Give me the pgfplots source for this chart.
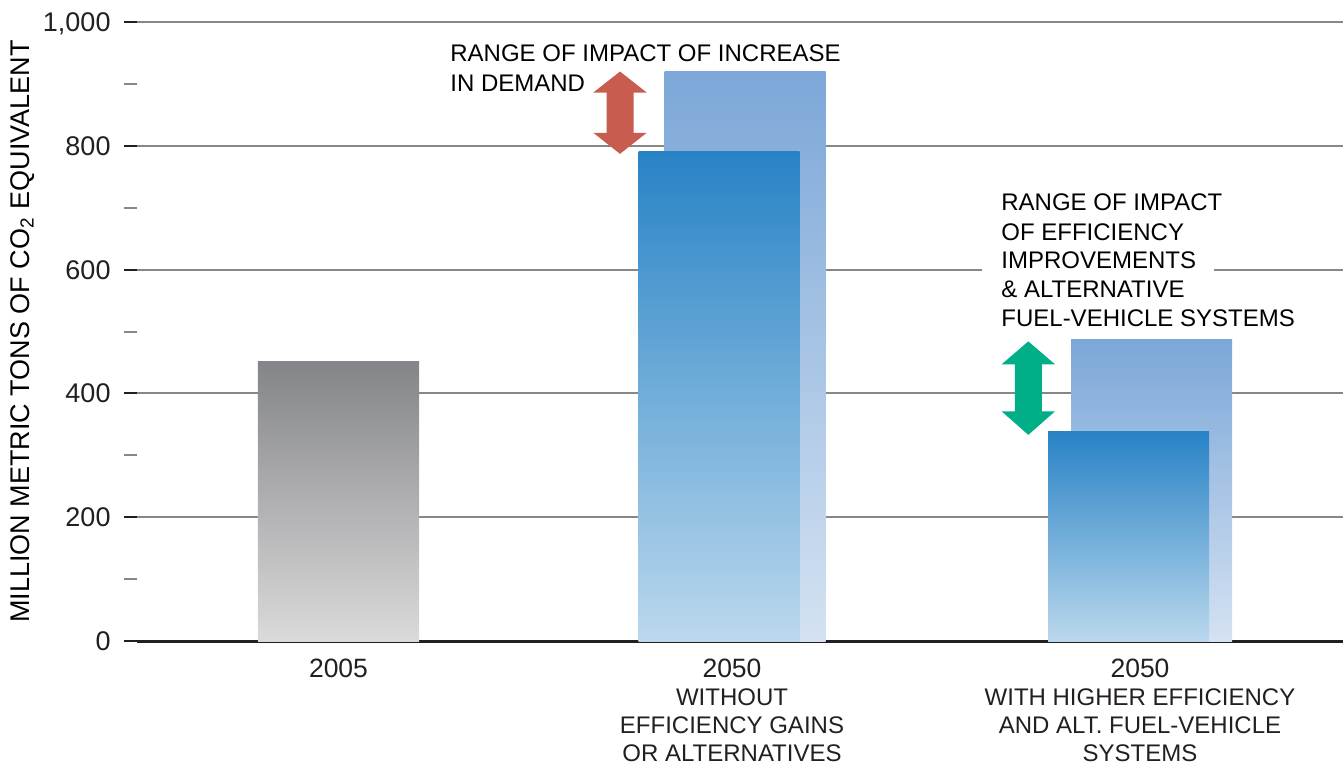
\documentclass[border=0pt]{standalone}
\usepackage{pgfplots}
\pgfplotsset{compat=1.18}
\usepackage{fontspec}
\setmainfont{Liberation Sans}
\definecolor{txt}{RGB}{35,31,32}
\definecolor{gridc}{RGB}{135,135,135}
\definecolor{graytop}{RGB}{132,133,137}
\definecolor{graybot}{RGB}{218,218,218}
\definecolor{backtop}{RGB}{124,167,216}
\definecolor{backbot}{RGB}{212,226,242}
\definecolor{fronttop}{RGB}{40,131,198}
\definecolor{frontbot}{RGB}{187,216,237}
\definecolor{arrred}{RGB}{200,92,78}
\definecolor{arrgreen}{RGB}{0,174,135}

\begin{document}
\begin{tikzpicture}[font=\color{txt}]
\begin{axis}[
  scale only axis, width=603pt, height=309.5pt,
  xmin=137, xmax=1343, ymin=0, ymax=1000,
  clip=false,
  axis x line=bottom, axis y line=left,
  x axis line style={-, line width=1.5pt, color=txt},
  y axis line style={draw=none},
  xtick={338.5,732,1140},
  xticklabels={{\fontsize{13.25}{14}\selectfont 2005},
    {\fontsize{13.25}{14}\selectfont 2050\\WITHOUT\\EFFICIENCY GAINS\\OR ALTERNATIVES},
    {\fontsize{13.25}{14}\selectfont 2050\\WITH HIGHER EFFICIENCY\\AND ALT. FUEL-VEHICLE\\SYSTEMS}},
  xticklabel style={align=center, font=\fontsize{12}{14}\selectfont, color=txt, yshift=0.8pt},
  xtick style={draw=none},
  ytick={0,200,...,1000},
  minor ytick={100,300,...,900},
  tick align=outside,
  major tick length=6.5pt, minor tick length=6.5pt,
  major tick style={line width=1pt, color=txt},
  minor tick style={line width=1pt, color=gridc},
  ymajorgrids, grid style={line width=1pt, color=gridc},
  yticklabel style={font=\fontsize{13.5}{15}\selectfont, text depth=0pt, color=txt, xshift=-3.2pt},
  /pgf/number format/1000 sep={,},
  /pgf/number format/assume math mode=true,
]
% back bars
\addplot[ybar, bar width=161, bar shift=0pt, draw=none, top color=backtop, bottom color=backbot]
  coordinates {(745,920)};
\addplot[ybar, bar width=161, bar shift=0pt, draw=none, top color=backtop, bottom color=backbot]
  coordinates {(1151.5,487)};
% front bars
\addplot[ybar, bar width=161, bar shift=0pt, draw=none, top color=graytop, bottom color=graybot]
  coordinates {(338.5,451)};
\addplot[ybar, bar width=161, bar shift=0pt, draw=none, top color=fronttop, bottom color=frontbot]
  coordinates {(719,790)};
\addplot[ybar, bar width=161, bar shift=0pt, draw=none, top color=fronttop, bottom color=frontbot]
  coordinates {(1128.5,338)};

% arrows
\fill[arrred] (axis cs:620,920) -- (axis cs:646.7,886) -- (axis cs:633.5,886) -- (axis cs:633.5,821)
  -- (axis cs:646.7,821) -- (axis cs:620,787) -- (axis cs:593.3,821) -- (axis cs:606.5,821)
  -- (axis cs:606.5,886) -- (axis cs:593.3,886) -- cycle;
\fill[arrgreen] (axis cs:1028.3,484) -- (axis cs:1055,447) -- (axis cs:1041.8,447) -- (axis cs:1041.8,371)
  -- (axis cs:1055,371) -- (axis cs:1028.3,333) -- (axis cs:1001.6,371) -- (axis cs:1014.8,371)
  -- (axis cs:1014.8,447) -- (axis cs:1001.6,447) -- cycle;

% annotations
\node[anchor=base west, inner sep=0pt, font=\fontsize{12}{14}\selectfont] at (axis cs:450,936) {RANGE OF IMPACT OF INCREASE};
\node[anchor=base west, inner sep=0pt, font=\fontsize{12}{14}\selectfont] at (axis cs:450,887.5) {IN DEMAND};
\fill[white] (axis cs:982,590) rectangle (axis cs:1214,612);
\node[anchor=base west, inner sep=0pt, font=\fontsize{12}{14}\selectfont] at (axis cs:1001,694.7) {RANGE OF IMPACT};
\node[anchor=base west, inner sep=0pt, font=\fontsize{12}{14}\selectfont] at (axis cs:1001,647.8) {OF EFFICIENCY};
\node[anchor=base west, inner sep=0pt, font=\fontsize{12}{14}\selectfont] at (axis cs:1001,602.1) {IMPROVEMENTS};
\node[anchor=base west, inner sep=0pt, font=\fontsize{12}{14}\selectfont] at (axis cs:1001,555.7) {\& ALTERNATIVE};
\node[anchor=base west, inner sep=0pt, font=\fontsize{12}{14}\selectfont] at (axis cs:1001,507.3) {FUEL-VEHICLE SYSTEMS};

% y label
\node[rotate=90, anchor=center, inner sep=0pt, font=\fontsize{13.5}{15}\selectfont] at (axis cs:22.5,500)
  {MILLION METRIC TONS OF CO\textsubscript{2} EQUIVALENT};
\end{axis}
\pgfresetboundingbox
\useasboundingbox (-68.5pt,-62.5pt) rectangle (603pt,320.5pt);
\end{tikzpicture}
\end{document}
